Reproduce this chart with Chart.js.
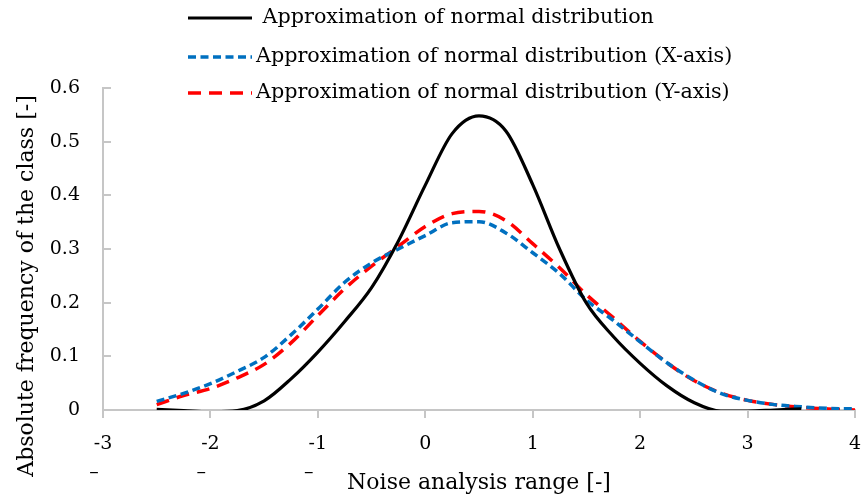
<!DOCTYPE html>
<html>
<head>
<meta charset="utf-8">
<title>Noise distribution</title>
<script src="https://cdn.jsdelivr.net/npm/chart.js@4/dist/chart.umd.min.js"></script>
<style>
  html, body { margin: 0; padding: 0; background: #fff; }
  #wrap { width: 862px; height: 500px; }
</style>
</head>
<body>
<div id="wrap"><canvas id="chart" width="862" height="500"></canvas></div>
<script>
/* Approximations of the normal distribution of the noise classes */

// class positions (noise analysis range)
const xValues = [-2.5, -2.25, -2.0, -1.75, -1.5, -1.25, -1.0, -0.75, -0.5, -0.25,
  0.0, 0.25, 0.5, 0.75, 1.0, 1.25, 1.5, 1.75, 2.0, 2.25, 2.5, 2.75, 3.0, 3.25, 3.5, 3.75, 4.0];

const normalAll = [0.001, -0.001, -0.003, -0.001, 0.017, 0.058, 0.108, 0.165, 0.228, 0.315,
  0.419, 0.515, 0.548, 0.52, 0.42, 0.30, 0.199, 0.137, 0.087, 0.045, 0.014, -0.002, -0.002, 0.0, 0.002];

const normalX = [0.016, 0.031, 0.049, 0.072, 0.098, 0.140, 0.188, 0.238, 0.274, 0.300,
  0.325, 0.349, 0.351, 0.330, 0.293, 0.254, 0.205, 0.167, 0.127, 0.088, 0.056, 0.031, 0.018, 0.010, 0.006, 0.003, 0.002];

const normalY = [0.010, 0.027, 0.040, 0.060, 0.085, 0.125, 0.176, 0.226, 0.268, 0.305,
  0.342, 0.366, 0.370, 0.353, 0.310, 0.265, 0.215, 0.172, 0.128, 0.088, 0.055, 0.032, 0.018, 0.010, 0.005, 0.002, 0.000];

const seriesNames = [
  ' Approximation of normal distribution',
  'Approximation of normal distribution (X-axis)',
  'Approximation of normal distribution (Y-axis)',
];

const xTicks = [-3, -2, -1, 0, 1, 2, 3, 4];
const xTickLabels = [['-3', '–'], ['-2', '–'], ['-1', '–'], '0', '1', '2', '3', '4'];
const yTicks = [0, 0.1, 0.2, 0.3, 0.4, 0.5, 0.6];
const yTickLabels = ['0', '0.1', '0.2', '0.3', '0.4', '0.5', '0.6'];

const FONT = '"DejaVu Serif", "Liberation Serif", serif';
const AXIS_GREY = '#c6c6c6';

const toPoints = (ys) => ys.map((y, i) => ({ x: xValues[i], y }));

// legend drawn as three stacked rows above the plot
const legendRows = {
  id: 'legendRows',
  afterDraw(chart) {
    const { ctx } = chart;
    const rowY = [18, 57, 93];
    ctx.save();
    ctx.font = '20.7px ' + FONT;
    ctx.textBaseline = 'middle';
    ctx.textAlign = 'left';
    chart.data.datasets.forEach((ds, i) => {
      const y = rowY[i];
      ctx.strokeStyle = ds.borderColor;
      ctx.lineWidth = ds.borderWidth;
      ctx.setLineDash(ds.borderDash || []);
      ctx.beginPath();
      ctx.moveTo(188, y);
      ctx.lineTo(252, y);
      ctx.stroke();
      ctx.setLineDash([]);
      ctx.fillStyle = '#000';
      ctx.fillText(ds.label, 256, y);
    });
    ctx.restore();
  },
};

// vertical axis title, sits a little lower than the axis centre
const yTitle = {
  id: 'yTitle',
  afterDraw(chart) {
    const { ctx } = chart;
    ctx.save();
    ctx.translate(27, 286);
    ctx.rotate(-Math.PI / 2);
    ctx.font = '22px ' + FONT;
    ctx.fillStyle = '#000';
    ctx.textAlign = 'center';
    ctx.textBaseline = 'middle';
    ctx.fillText('Absolute frequency of the class [-]', 0, 0);
    ctx.restore();
  },
};

const lineBase = {
  pointRadius: 0, pointHoverRadius: 0, fill: false,
  cubicInterpolationMode: 'monotone',
};

new Chart(document.getElementById('chart').getContext('2d'), {
  type: 'line',
  data: {
    datasets: [
      { ...lineBase, label: seriesNames[0], data: toPoints(normalAll),
        borderColor: '#000000', borderWidth: 3.2 },
      { ...lineBase, label: seriesNames[1], data: toPoints(normalX),
        borderColor: '#0070c0', borderWidth: 3.5, borderDash: [8, 4.5] },
      { ...lineBase, label: seriesNames[2], data: toPoints(normalY),
        borderColor: '#ff0000', borderWidth: 3.5, borderDash: [13, 8] },
    ],
  },
  options: {
    responsive: false,
    animation: false,
    devicePixelRatio: 1,
    layout: { padding: { top: 88, right: 7, left: 0, bottom: 0 } },
    plugins: { legend: { display: false }, tooltip: { enabled: false } },
    scales: {
      x: {
        type: 'linear',
        min: -3, max: 4,
        afterFit: (s) => { s.height = 90; s.paddingLeft = 0; s.paddingRight = 0; },
        afterBuildTicks: (s) => { s.ticks = xTicks.map((v) => ({ value: v })); },
        grid: { drawOnChartArea: false, color: AXIS_GREY, lineWidth: 2, tickLength: 8 },
        border: { color: AXIS_GREY, width: 2 },
        ticks: {
          color: '#000', padding: 11,
          font: { family: FONT, size: 19, lineHeight: 1.55 },
          callback: (v) => {
            const lbl = xTickLabels[xTicks.indexOf(v)];
            // the wrapped minus sits slightly left of the number
            return Array.isArray(lbl) ? [lbl[0], lbl[1] + '\u00a0\u00a0\u00a0'] : lbl;
          },
        },
        title: {
          display: true, text: 'Noise analysis range [-]', color: '#000',
          font: { family: FONT, size: 22 }, padding: { top: 0, bottom: 4 },
        },
      },
      y: {
        min: 0, max: 0.6,
        afterFit: (s) => { s.width = 103; },
        afterBuildTicks: (s) => { s.ticks = yTicks.map((v) => ({ value: v })); },
        grid: { drawOnChartArea: false, color: AXIS_GREY, lineWidth: 2, tickLength: -8 },
        border: { color: AXIS_GREY, width: 2 },
        ticks: {
          color: '#000', padding: 31,
          font: { family: FONT, size: 19 },
          callback: (v) => yTickLabels[yTicks.indexOf(v)],
        },
      },
    },
  },
  plugins: [legendRows, yTitle],
});
</script>
</body>
</html>
